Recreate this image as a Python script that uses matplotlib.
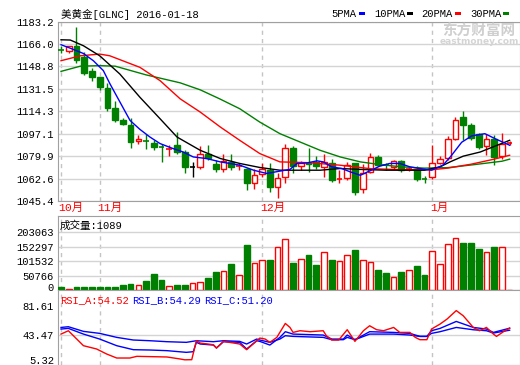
import matplotlib
matplotlib.use('Agg')
import matplotlib.pyplot as plt
from matplotlib.patches import Rectangle
from matplotlib.transforms import ScaledTranslation

plt.rcParams['font.family'] = ['Liberation Mono', 'Noto Sans CJK SC']
plt.rcParams['font.size'] = 7.6

W, H = 520, 365
GREEN = '#008000'
GRID = '#d4d4d4'
EDGE = '#a0a0a0'

# ---- daily OHLC, 2015-10-26 .. 2016-01-18 ----
opens = [1161.8, 1160.9, 1164.2, 1155.7, 1145.6, 1140.4, 1132.0, 1116.7, 1107.3, 1103.5,
         1091.4, 1092.0, 1089.9, 1087.1, 1084.9, 1088.2, 1083.0, 1071.6, 1071.6, 1081.8,
         1073.6, 1069.6, 1075.4, 1071.8, 1070.3, 1058.9, 1066.0, 1069.0, 1056.3, 1063.9,
         1086.4, 1072.1, 1074.9, 1075.4, 1071.6, 1074.6, 1061.9, 1062.7, 1074.2, 1054.3,
         1067.7, 1079.2, 1073.6, 1071.6, 1076.2, 1069.6, 1070.3, 1062.1, 1063.9, 1074.6,
         1078.6, 1093.1, 1109.6, 1103.5, 1096.6, 1087.4, 1092.8, 1080.0, 1089.9]
highs = [1164.7, 1164.8, 1179.2, 1159.6, 1147.3, 1141.0, 1135.9, 1122.1, 1109.4, 1109.4,
         1095.8, 1096.6, 1092.0, 1089.5, 1088.2, 1098.3, 1084.3, 1075.4, 1087.4, 1088.2,
         1076.7, 1081.1, 1081.3, 1074.2, 1070.8, 1069.6, 1074.9, 1074.2, 1066.5, 1089.5,
         1087.4, 1076.2, 1086.4, 1079.8, 1081.8, 1078.0, 1069.0, 1075.4, 1074.6, 1074.0,
         1082.3, 1080.5, 1074.6, 1077.2, 1077.2, 1071.6, 1072.1, 1064.7, 1088.2, 1079.8,
         1095.1, 1109.6, 1114.2, 1105.2, 1097.4, 1097.1, 1096.2, 1097.4, 1091.5]
lows = [1159.3, 1159.1, 1151.5, 1142.3, 1137.4, 1131.0, 1114.2, 1106.0, 1104.0, 1086.4,
        1089.0, 1085.4, 1084.9, 1075.4, 1080.0, 1081.8, 1066.5, 1063.9, 1070.3, 1076.7,
        1067.7, 1067.7, 1069.0, 1069.0, 1053.7, 1054.5, 1063.9, 1052.4, 1047.8, 1059.3,
        1066.5, 1069.0, 1067.7, 1070.3, 1063.9, 1060.1, 1059.3, 1061.4, 1049.9, 1051.2,
        1066.5, 1072.5, 1069.0, 1070.3, 1067.7, 1068.5, 1060.8, 1058.9, 1061.9, 1073.6,
        1077.2, 1092.0, 1092.0, 1092.0, 1085.1, 1080.5, 1073.2, 1078.0, 1088.4]
closes = [1161.4, 1164.2, 1154.0, 1144.0, 1140.4, 1132.8, 1116.7, 1107.8, 1104.8, 1090.7,
          1093.2, 1091.5, 1086.9, 1086.7, 1085.5, 1083.0, 1071.6, 1071.6, 1081.8, 1078.4,
          1069.6, 1075.9, 1071.6, 1072.3, 1058.9, 1065.7, 1070.0, 1055.8, 1062.7, 1086.4,
          1072.1, 1074.9, 1073.4, 1072.5, 1075.4, 1061.4, 1062.3, 1072.9, 1052.4, 1067.0,
          1078.8, 1072.9, 1072.3, 1076.2, 1069.4, 1070.0, 1062.1, 1061.9, 1074.6, 1078.0,
          1093.3, 1107.9, 1103.9, 1093.9, 1086.9, 1093.3, 1079.5, 1089.5, 1090.3]
volumes = [12000, 5000, 12000, 12000, 12000, 12000, 12000, 12000, 18200, 21700,
           18200, 32200, 56700, 35700, 15800, 18200, 18200, 24100, 28700, 41600,
           62600, 66100, 90600, 52100, 157100, 94100, 105700, 105700, 150100, 178100,
           96300, 108100, 123200, 88200, 134800, 105700, 102200, 123200, 140700, 105700,
           97600, 70700, 59100, 45100, 64800, 70700, 84700, 53200, 137200, 90600,
           161700, 181600, 166300, 166300, 144200, 134800, 152300, 150100, 1089]

month_starts = [0, 5, 26, 48]
month_labels = ['10月', '11月', '12月', '1月']

# moving averages (bar index, price)
ma5_x = [0, 1.16, 2.88, 4.18, 5.47, 6.33, 7.63, 8.92, 10.2, 11.5, 12.8, 14.5, 15.8, 17.1, 18.8,
         20.6, 21.8, 23.1, 24.9, 26.6, 28.3, 29.6, 30.5, 31.8, 33.1, 33.9, 35.0, 36.3, 37.4, 38.7,
         40.0, 41.2, 42.5, 43.8, 45.1, 46.4, 47.9, 49.4, 50.5, 51.8, 53.1, 54.8, 56.1, 58.0]
ma5_v = [1165.5, 1162.9, 1158.8, 1153.2, 1145.6, 1135.4, 1121.3, 1107.3, 1100.4, 1094.5, 1089.5,
         1085.6, 1083.0, 1079.2, 1078.0, 1075.4, 1074.2, 1072.9, 1069.0, 1066.5, 1068.3, 1069.6,
         1074.2, 1074.6, 1076.2, 1075.4, 1071.6, 1070.3, 1067.7, 1065.1, 1068.7, 1072.1, 1074.2,
         1074.2, 1071.6, 1070.3, 1069.0, 1072.9, 1080.5, 1090.5, 1095.4, 1097.1, 1093.3, 1088.2]
ma10_x = [0, 1.2, 2.9, 5, 7.6, 10.2, 12.8, 15, 18, 20.6, 23.1, 25.7, 28.3, 33.5, 36.1, 38.7,
          42, 47, 49, 50.3, 52, 54.2, 56.4, 58]
ma10_v = [1169.3, 1169.1, 1164.7, 1157.0, 1143.0, 1125.1, 1108.6, 1094.5, 1084.3, 1078.0, 1074.2,
          1071.1, 1069.0, 1069.0, 1070.3, 1069.6, 1069.0, 1069.0, 1071.6, 1075.4, 1079.8, 1083.0,
          1088.2, 1092.0]
ma20_x = [0, 2.5, 5, 6.3, 10.2, 12.8, 15.4, 18, 20.6, 23.1, 25.7, 28.3, 32, 36, 40, 44, 48, 50,
          53, 56, 58]
ma20_v = [1153.2, 1157.0, 1158.3, 1157.0, 1148.1, 1137.9, 1123.9, 1113.7, 1102.2, 1092.0, 1081.8,
          1075.4, 1074.8, 1072.9, 1070.2, 1069.4, 1069.4, 1070.6, 1073.6, 1077.5, 1080.5]
ma30_x = [0, 2.5, 5, 7, 11, 15.4, 18, 20.5, 23.1, 25.7, 28.3, 30.9, 33.5, 36.1, 38.7, 41.4, 44,
          47, 50, 53.3, 57, 58]
ma30_v = [1145.0, 1149.0, 1149.4, 1149.0, 1142.3, 1136.2, 1130.8, 1123.9, 1116.3, 1106.0, 1097.1,
          1090.7, 1084.3, 1079.2, 1075.4, 1073.2, 1071.6, 1070.6, 1071.0, 1073.2, 1075.9, 1077.5]

# RSI lines
rsi_a_x = [0.0, 0.95, 2.9, 4.6, 5.9, 7.2, 8.9, 9.8, 13.7, 15.4, 16.0, 16.9, 17.5, 18.0, 19.7, 20.1,
           21.0, 23.1, 24.0, 25.7, 26.4, 27.0, 27.9, 29.0, 29.6, 30.0, 30.9, 32.2, 33.9, 34.3, 35.0,
           35.9, 37.0, 38.0, 39.1, 39.9, 40.8, 41.7, 43.0, 43.8, 45.1, 45.8, 46.4, 47.3, 47.9, 49.0,
           49.9, 51.1, 52.0, 53.3, 54.1, 55.0, 55.9, 56.3, 57.2, 58.0]
rsi_a_v = [45.2, 50.4, 27.2, 22.1, 14.3, 8.1, 8.1, 10.7, 9.7, 6.6, 5.32, 5.5, 34.9, 31.3, 28.7, 23.6,
           33.9, 29.8, 21.0, 39.0, 37.5, 32.4, 40.1, 61.7, 55.5, 47.8, 50.4, 48.9, 50.4, 42.7, 36.0,
           36.0, 52.0, 33.9, 50.4, 58.1, 52.0, 50.4, 55.5, 47.8, 47.8, 40.1, 36.5, 36.5, 53.0, 60.7,
           68.4, 81.61, 73.6, 55.5, 50.4, 55.5, 45.2, 41.6, 48.9, 54.52]
rsi_b_x = [0.0, 0.95, 2.9, 5.0, 7.2, 9.35, 11.5, 13.7, 16.2, 17.1, 17.5, 18.0, 19.7, 20.1, 21.0,
           23.1, 24.0, 25.3, 25.7, 27.0, 28.3, 29.0, 30.0, 33.9, 35.0, 36.5, 37.0, 38.0, 39.9, 43.0,
           45.1, 46.4, 47.3, 47.9, 49.0, 51.1, 53.3, 55.0, 55.9, 58.0]
rsi_b_v = [53.0, 54.0, 45.2, 37.5, 27.2, 21.0, 20.5, 19.5, 16.9, 17.9, 32.4, 29.8, 28.2, 23.6, 33.4,
           32.4, 22.1, 34.9, 33.9, 28.2, 40.1, 48.9, 45.2, 43.7, 37.5, 37.5, 43.7, 36.5, 48.9, 47.8,
           46.3, 41.6, 41.6, 50.4, 54.0, 64.8, 55.5, 53.0, 47.8, 54.29]
rsi_c_x = [0.0, 0.95, 2.9, 5.0, 7.2, 9.35, 11.5, 13.7, 16.2, 17.5, 19.7, 21.0, 23.1, 24.0, 25.3,
           25.7, 27.0, 28.3, 29.0, 30.0, 33.9, 35.0, 36.5, 37.0, 38.0, 39.9, 43.0, 45.1, 46.4, 47.3,
           47.9, 49.0, 51.1, 53.3, 55.0, 55.9, 58.0]
rsi_c_v = [55.5, 56.6, 49.4, 46.3, 40.1, 36.0, 34.9, 33.4, 32.4, 34.9, 33.4, 34.9, 33.9, 29.8, 37.5,
           36.0, 32.4, 37.5, 42.7, 41.6, 40.1, 36.5, 36.5, 40.1, 36.5, 45.2, 45.2, 43.7, 41.6, 41.6,
           46.3, 48.9, 55.5, 51.9, 50.4, 46.8, 51.20]

price_ticks = [1045.4, 1062.6, 1079.9, 1097.1, 1114.3, 1131.5, 1148.8, 1166.0, 1183.2]
vol_ticks = [0, 50766, 101532, 152297, 203063]
rsi_ticks = [5.32, 43.47, 81.61]

fig = plt.figure(figsize=(5.2, 3.65), dpi=100)


def box(left, top, right, bottom):
    return [left / W, 1 - bottom / H, (right - left) / W, (bottom - top) / H]


ax1 = fig.add_axes(box(58, 21.7, 520, 200.9))
ax2 = fig.add_axes(box(58, 216, 520, 290.2), sharex=ax1)
ax3 = fig.add_axes(box(58, 290.2, 520, 364.5), sharex=ax1)

for ax in (ax1, ax2, ax3):
    for s in ax.spines.values():
        s.set_color(EDGE)
    ax.set_axisbelow(True)
    ax.tick_params(length=0, pad=3, labelbottom=False)
    for m in month_starts:
        ax.axvline(m, color='#c4c4c4', lw=1, ls=(0, (3, 3)), zorder=0)
ax1.set_xticks([])
ax1.set_xlim(-0.39, 59.34)

# candles
BW = 0.74
for i in range(len(closes)):
    o, h, l, c = opens[i], highs[i], lows[i], closes[i]
    col = 'red' if c > o else (GREEN if c < o else 'black')
    ax1.vlines(i, l, h, color=col, lw=1, zorder=2)
    if abs(c - o) < 1.5:
        ax1.hlines((o + c) / 2, i - BW / 2, i + BW / 2, color=col, lw=1.2, zorder=3)
    elif c > o:
        ax1.bar(i, c - o, BW, bottom=o, facecolor='white', edgecolor=col, lw=1, zorder=3)
    else:
        ax1.bar(i, o - c, BW, bottom=c, facecolor=col, edgecolor=col, lw=1, zorder=3)

ax1.plot(ma30_x, ma30_v, color=GREEN, lw=1, zorder=4)
ax1.plot(ma20_x, ma20_v, color='red', lw=1, zorder=4)
ax1.plot(ma10_x, ma10_v, color='black', lw=1, zorder=4)
ax1.plot(ma5_x, ma5_v, color='blue', lw=1, zorder=4)

ax1.set_ylim(1045.4, 1183.2)
ax1.set_yticks(price_ticks)
ax1.set_yticklabels(['%.1f' % v for v in price_ticks])
ax1.grid(axis='y', color=GRID, lw=1)

for m, lbl in zip(month_starts, month_labels):
    ax1.text(m - 0.3, -0.012, lbl, transform=ax1.get_xaxis_transform(),
             color='red', ha='left', va='top', fontsize=8.2)

# volume
for i, v in enumerate(volumes):
    if closes[i] >= opens[i]:
        ax2.bar(i, v, BW, facecolor='white', edgecolor='red', lw=1, zorder=3)
    else:
        ax2.bar(i, v, BW, facecolor=GREEN, edgecolor=GREEN, lw=1, zorder=3)
ax2.set_ylim(0, 203063 * 74.2 / 58)
ax2.set_yticks(vol_ticks)
ax2.set_yticklabels([str(v) for v in vol_ticks])
ax2.grid(axis='y', color=GRID, lw=1)
# bottom label sits a little above the baseline, as in the terminal chart
ax2.get_yticklabels()[0].set_transform(
    ax2.get_yticklabels()[0].get_transform() + ScaledTranslation(0, 3 / 100, fig.dpi_scale_trans))

# RSI
ax3.plot(rsi_c_x, rsi_c_v, color='blue', lw=1)
ax3.plot(rsi_b_x, rsi_b_v, color='blue', lw=1)
ax3.plot(rsi_a_x, rsi_a_v, color='red', lw=1)
ax3.set_ylim(-1.95, 113.22)
ax3.set_yticks(rsi_ticks)
ax3.set_yticklabels(['%.2f' % v for v in rsi_ticks])
ax3.axhline(43.47, color=GRID, lw=1, zorder=0)
top_lbl = ax3.get_yticklabels()[-1]
top_lbl.set_transform(top_lbl.get_transform() + ScaledTranslation(0, 5 / 100, fig.dpi_scale_trans))

# header texts
fig.text(61 / W, 1 - 14 / H, '美黄金[GLNC] 2016-01-18', ha='left', va='center')
for lbl, col, px, sq in zip(['5PMA', '10PMA', '20PMA', '30PMA'],
                            ['blue', 'black', 'red', GREEN],
                            [331, 374, 421.7, 470], [359, 407, 455, 503]):
    fig.text(px / W, 1 - 14 / H, lbl, ha='left', va='center')
    fig.add_artist(Rectangle((sq / W, 1 - 15.2 / H), 6 / W, 3 / H,
                             transform=fig.transFigure, color=col, lw=0))

fig.text(479 / W, 1 - 31 / H, '东方财富网', ha='center', va='center', color='#cfcfcf',
         fontsize=10.5, fontweight='bold', family=['Noto Sans CJK SC'])
fig.text(479 / W, 1 - 42 / H, 'eastmoney.com', ha='center', va='center', color='#d4d4d4',
         fontsize=6.5, fontweight='bold', family=['DejaVu Sans'])

fig.text(60 / W, 1 - 226 / H, '成交量:1089', ha='left', va='center')
fig.text(60 / W, 1 - 300 / H, 'RSI_A:54.52', ha='left', va='center', color='red')
fig.text(132 / W, 1 - 300 / H, 'RSI_B:54.29', ha='left', va='center', color='blue')
fig.text(204 / W, 1 - 300 / H, 'RSI_C:51.20', ha='left', va='center', color='blue')

fig.savefig('out.png', dpi=100, facecolor='white')
